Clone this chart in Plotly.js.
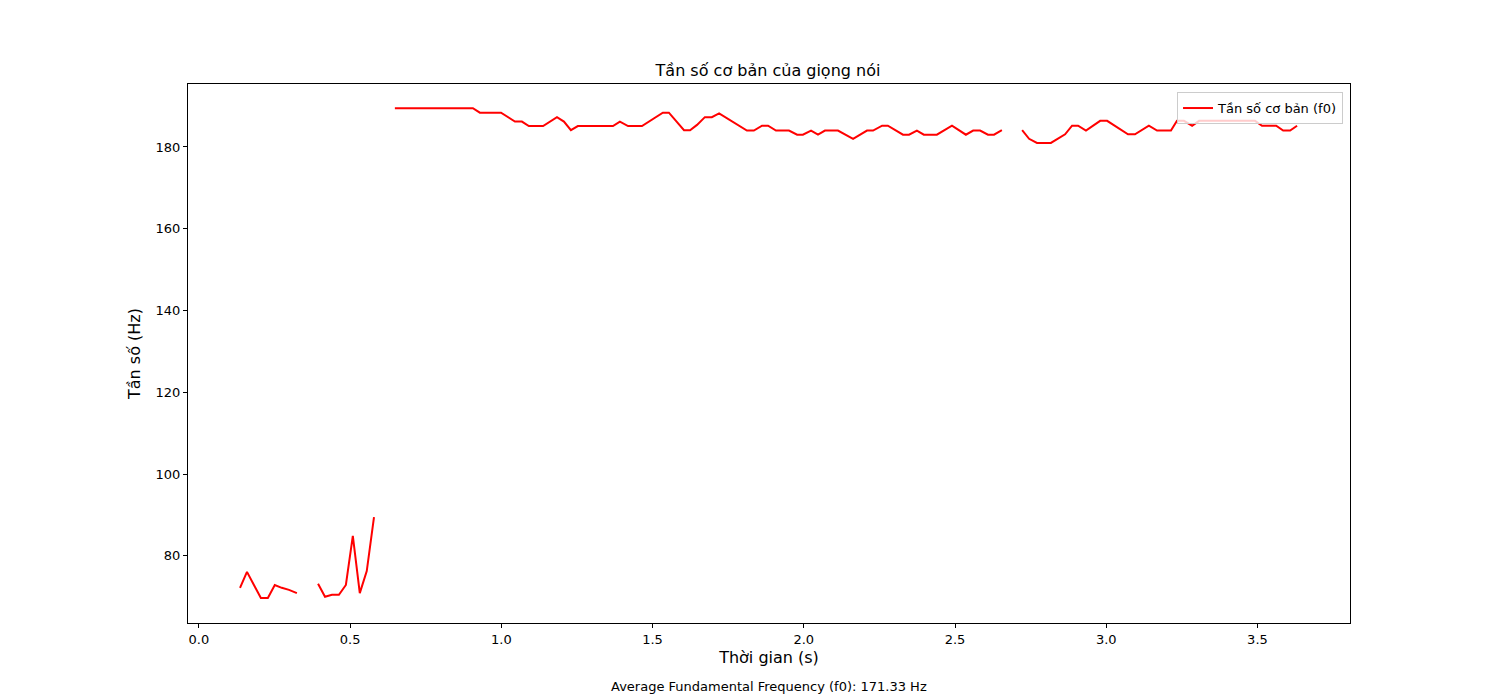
<!DOCTYPE html>
<html>
<head>
<meta charset="utf-8">
<script src="https://cdn.plot.ly/plotly-3.0.1.min.js"></script>
<style>body{margin:0}#chart{width:1500px;height:700px}</style>
</head>
<body>
<div id="chart"></div>
<script>
// vertices of the f0 curve, null = unvoiced gap
const times = [
    0.136, 0.159, 0.182, 0.205, 0.228, 0.251, 0.274, 0.298, 0.324, null,
    0.394, 0.417, 0.440, 0.463, 0.486, 0.509, 0.532, 0.555, 0.579, null,
    0.648, 0.906, 0.929, 0.999, 1.045, 1.068, 1.091, 1.138, 1.184, 1.207, 1.230, 1.253,
    1.369, 1.392, 1.419, 1.465, 1.534, 1.554, 1.604, 1.624, 1.647, 1.673, 1.696, 1.720,
    1.812, 1.835, 1.862, 1.882, 1.908, 1.951, 1.978, 1.997, 2.024, 2.047, 2.070, 2.113,
    2.163, 2.209, 2.229, 2.259, 2.278, 2.328, 2.348, 2.374, 2.397, 2.440, 2.490, 2.536,
    2.560, 2.583, 2.609, 2.629, 2.655, null,
    2.722, 2.745, 2.771, 2.817, 2.864, 2.887, 2.907, 2.933, 2.980, 3.003, 3.072, 3.095,
    3.141, 3.168, 3.214, 3.234, 3.257, 3.284, 3.307, 3.492, 3.515, 3.562, 3.585, 3.608, 3.631
]
const f0 = [
    72.2, 76.1, 72.9, 69.7, 69.7, 72.9, 72.2, 71.7, 70.9, null,
    73.2, 70.0, 70.5, 70.5, 72.9, 84.9, 70.9, 76.3, 89.5, null,
    189.5, 189.5, 188.4, 188.4, 186.2, 186.2, 185.1, 185.1, 187.3, 186.2, 184.1, 185.1,
    185.1, 186.2, 185.1, 185.1, 188.4, 188.4, 184.1, 184.1, 185.4, 187.3, 187.3, 188.2,
    184.0, 184.0, 185.2, 185.2, 184.0, 184.0, 183.0, 183.0, 184.0, 183.0, 184.0, 184.0,
    182.0, 184.0, 184.0, 185.2, 185.2, 183.0, 183.0, 184.0, 183.0, 183.0, 185.2, 183.0,
    184.0, 184.0, 183.0, 183.0, 184.1, null,
    184.1, 182.0, 181.0, 181.0, 183.1, 185.2, 185.2, 184.0, 186.4, 186.4, 183.1, 183.1,
    185.2, 184.0, 184.0, 186.4, 186.4, 185.2, 186.4, 186.4, 185.2, 185.2, 184.0, 184.0, 185.2
]
const xTicks = [0, 0.5, 1, 1.5, 2, 2.5, 3, 3.5]
const xTickText = ['0.0', '0.5', '1.0', '1.5', '2.0', '2.5', '3.0', '3.5']
const yTicks = [80, 100, 120, 140, 160, 180]
const avgF0 = 171.33

const axisStyle = {
    showgrid: false, zeroline: false, showline: true, mirror: true,
    linecolor: '#000', linewidth: 1, ticks: 'outside', ticklen: 4,
    tickcolor: '#000', tickfont: {size: 13}
}

var data = [{
    x: times,
    y: f0,
    mode: 'lines',
    connectgaps: false,
    name: 'Tần số cơ bản (f0)',
    line: {color: '#ff0000', width: 2}
}]

var layout = {
    width: 1500, height: 700,
    font: {family: 'DejaVu Sans', color: '#000', size: 13},
    paper_bgcolor: '#fff', plot_bgcolor: '#fff',
    margin: {l: 188, r: 150, t: 84, b: 77},
    title: {text: 'Tần số cơ bản của giọng nói', font: {size: 16}, x: 0.512, y: 0.9, yanchor: 'middle'},
    xaxis: Object.assign({}, axisStyle, {
        range: [-0.036, 3.806], tickvals: xTicks, ticktext: xTickText,
        title: {text: 'Thời gian (s)', standoff: 6}
    }),
    yaxis: Object.assign({}, axisStyle, {
        range: [63.6, 195.4], tickvals: yTicks,
        title: {text: 'Tần số (Hz)', standoff: 10}
    }),
    showlegend: true,
    legend: {
        x: 0.994, y: 0.985, xanchor: 'right', yanchor: 'top',
        bordercolor: '#ccc', borderwidth: 1, bgcolor: 'rgba(255,255,255,0.8)',
        font: {size: 13}
    },
    annotations: [{
        text: 'Average Fundamental Frequency (f0): ' + avgF0.toFixed(2) + ' Hz',
        xref: 'paper', yref: 'paper', x: 0.5, y: -0.1, yanchor: 'top',
        showarrow: false, font: {size: 13}
    }]
}

Plotly.newPlot('chart', data, layout, {displayModeBar: false})
</script>
</body>
</html>
